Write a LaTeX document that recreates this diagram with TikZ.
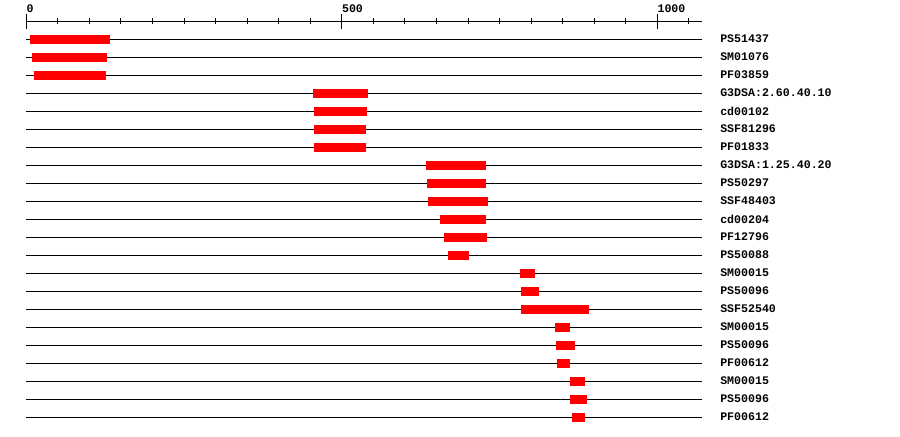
\documentclass[tikz,border=0pt]{standalone}
\usepackage{fontspec}
\setmonofont{Liberation Mono}
\usetikzlibrary{positioning}
\tikzset{
    track/.style={black, line width=0.75pt},
    hit/.style={fill=red, draw=none},
    dblabel/.style={font=\ttfamily\bfseries\fontsize{8.7}{10}\selectfont, anchor=west, inner sep=0pt},
}

\begin{document}
\begin{tikzpicture}[x=0.75pt, y=-0.75pt]
    \useasboundingbox (0,0) rectangle (900,436);
    % scale: 0 .. 1050
    \coordinate (ax-start) at (26,21);
    \coordinate (ax-end) at (702,21);
    \draw[track] (ax-start) -- (ax-end);
    \foreach \t in {0,50,...,1050}
        \draw[track] ({26.3+0.631*\t},18) -- ({26.3+0.631*\t},24);
    \foreach \t in {0,500,1000} {
        \draw[track] ({26.3+0.631*\t},13.5) -- ({26.3+0.631*\t},29);
        \node[dblabel] (tick-\t) at ({26.3+0.631*\t},8.5) {\t};
    }
    % one track per database hit
    \foreach \name/\a/\b [count=\i] in {
        PS51437/30/110, SM01076/32/107, PF03859/34/106,
        G3DSA:2.60.40.10/313/368, cd00102/314/367, SSF81296/314/366, PF01833/314/366,
        G3DSA:1.25.40.20/426/486, PS50297/427/486, SSF48403/428/488, cd00204/440/486,
        PF12796/444/487, PS50088/448/469,
        SM00015/520/535, PS50096/521/539, SSF52540/521/589,
        SM00015/555/570, PS50096/556/575, PF00612/557/570,
        SM00015/570/585, PS50096/570/587, PF00612/572/585}
    {
        \coordinate (row-\i) at (26,{21+18*\i});
        \coordinate (row-\i-end) at (702,{21+18*\i});
        \draw[track] (row-\i) -- (row-\i-end);
        \fill[hit] (\a,{16.5+18*\i}) rectangle (\b,{25.5+18*\i});
        \node[dblabel] (lbl-\i) at (720,{21+18*\i}) {\name};
    }
\end{tikzpicture}
\end{document}
